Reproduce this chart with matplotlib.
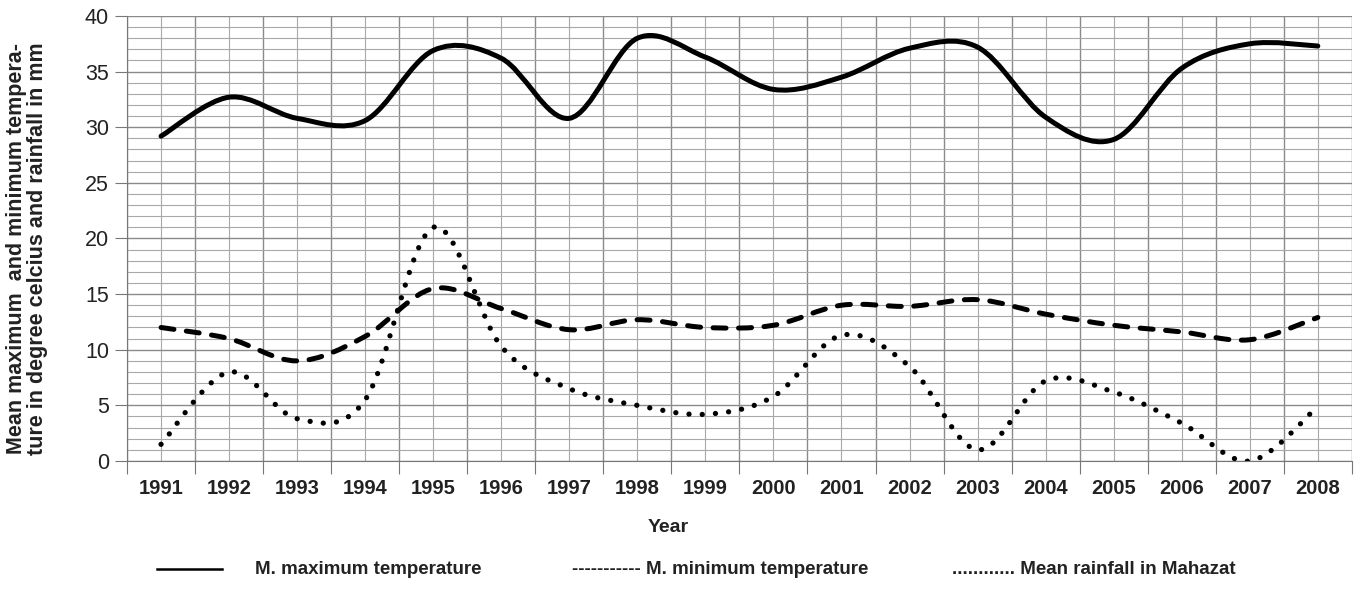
import matplotlib
matplotlib.use('Agg')
import matplotlib.pyplot as plt
from matplotlib.path import Path
from matplotlib.patches import PathPatch
from matplotlib.lines import Line2D
import numpy as np

plt.rcParams['font.family'] = ['Liberation Sans', 'DejaVu Sans']

years = [str(y) for y in range(1991, 2009)]
max_temp = [29.2, 32.7, 30.8, 30.6, 36.9, 36.2, 30.8, 38.0, 36.3, 33.4,
            34.5, 37.1, 37.2, 30.9, 28.9, 35.3, 37.5, 37.3]
min_temp = [12.0, 11.0, 9.0, 11.2, 15.5, 13.7, 11.8, 12.7, 12.0, 12.2,
            14.0, 13.9, 14.5, 13.2, 12.2, 11.6, 10.9, 12.9]
rainfall = [1.5, 8.0, 3.8, 5.5, 21.0, 10.3, 6.5, 5.0, 4.2, 5.8,
            11.3, 8.5, 1.0, 7.2, 6.2, 3.4, 0.0, 4.9]


def smooth_path(x, y):
    # bezier through the points, like the "smoothed line" option of a spreadsheet
    verts = [(x[0], y[0])]
    codes = [Path.MOVETO]
    n = len(x)
    for i in range(n - 1):
        a, b = max(i - 1, 0), min(i + 2, n - 1)
        c1 = (x[i] + (x[i + 1] - x[a]) / 6, y[i] + (y[i + 1] - y[a]) / 6)
        c2 = (x[i + 1] - (x[b] - x[i]) / 6, y[i + 1] - (y[b] - y[i]) / 6)
        verts += [c1, c2, (x[i + 1], y[i + 1])]
        codes += [Path.CURVE4] * 3
    return Path(verts, codes)


fig = plt.figure(figsize=(13.6, 5.92), dpi=100)
ax = fig.add_axes([0.0934, 0.2213, 0.9006, 0.7517])

xs = np.arange(len(years))
styles = [(max_temp, 'solid', 3.6), (min_temp, (0, (2.6, 2.5)), 3.6), (rainfall, (0, (0.01, 2.5)), 3.8)]
for vals, ls, lw in styles:
    p = PathPatch(smooth_path(xs, vals), fill=False, edgecolor='black', linewidth=lw, linestyle=ls,
                  capstyle='round', joinstyle='round', zorder=3)
    ax.add_patch(p)

ax.set_xlim(-0.5, len(years) - 0.5)
ax.set_ylim(0, 40)
ax.set_xticks(np.arange(-0.5, len(years), 1))
ax.set_xticklabels([])
ax.set_xticks(xs, minor=True)
ax.set_xticklabels(years, minor=True, fontweight='bold', fontsize=14.5, color='#222222')
ax.tick_params(axis='x', which='minor', length=0, pad=13)
ax.tick_params(axis='x', which='major', length=9, color='#777777')
ax.set_yticks(range(0, 41, 5))
ax.set_yticks(range(0, 41, 1), minor=True)
ax.tick_params(axis='y', which='major', length=9, labelsize=15.5, labelcolor='#222222', color='#777777', pad=4)
ax.tick_params(axis='y', which='minor', length=0)
ax.grid(True, which='major', color='#8a8a8a', linewidth=1.0)
ax.grid(True, which='minor', color='#a8a8a8', linewidth=0.8)
for s in ['top', 'right']:
    ax.spines[s].set_visible(False)
for s in ['left', 'bottom']:
    ax.spines[s].set_color('#777777')

fig.text(27 / 1360, 1 - 249 / 592,
         'Mean maximum  and minimum tempera-\nture in degree celcius and rainfall in mm',
         rotation=90, ha='center', va='center', fontweight='bold', fontsize=15.5,
         linespacing=1.05, color='#222222')
fig.text(668 / 1360, 1 - 527 / 592, 'Year', ha='center', va='center', fontweight='bold', fontsize=14,
         color='#222222')

# legend row, written out as text like in the original
ly = 1 - 569 / 592
fig.lines.append(Line2D([157 / 1360, 222 / 1360], [ly] * 2, color='black', linewidth=1.8,
                        transform=fig.transFigure))
pieces = [(255, 'M. maximum temperature'), (572, '----------- M. minimum temperature'),
          (952, '............ Mean rainfall in Mahazat')]
for px, txt in pieces:
    fig.text(px / 1360, ly, txt, fontweight='bold', fontsize=13.5, va='center', color='#222222')

fig.savefig('out.png', dpi=100)
